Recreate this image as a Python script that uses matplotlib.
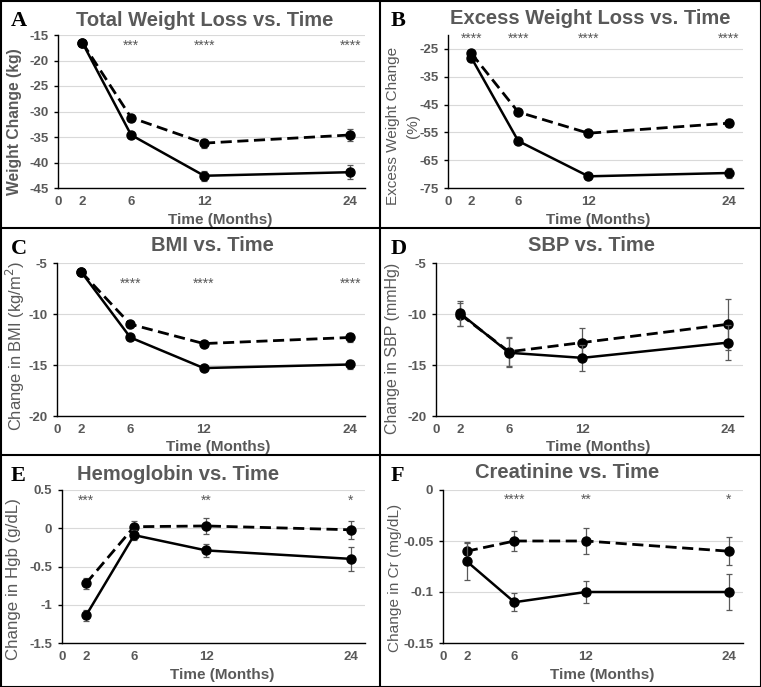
import matplotlib
matplotlib.use('Agg')
import matplotlib.pyplot as plt
from matplotlib.patches import Rectangle
from matplotlib.lines import Line2D

plt.rcParams['axes.unicode_minus'] = False

W, H = 761, 687
months = [2, 6, 12, 24]
xticks = [0, 2, 6, 12, 24]

# Panel A - Total weight loss
a_solid = [-16.5, -34.6, -42.6, -41.9]
a_solid_err = [0.3, 0.5, 1.0, 1.4]
a_dash = [-16.5, -31.2, -36.2, -34.6]
a_dash_err = [0.3, 0.6, 0.9, 1.2]
a_stars = ['', '***', '****', '****']

# Panel B - Excess weight loss
b_solid = [-28.2, -58.1, -70.8, -69.6]
b_solid_err = [0.6, 0.8, 1.0, 1.8]
b_dash = [-26.6, -47.7, -55.3, -51.7]
b_dash_err = [0.6, 1.0, 1.2, 1.5]
b_stars = ['****', '****', '****', '****']

# Panel C - BMI
c_solid = [-5.9, -12.3, -15.3, -14.95]
c_solid_err = [0.15, 0.15, 0.2, 0.4]
c_dash = [-5.9, -11.0, -12.9, -12.3]
c_dash_err = [0.15, 0.2, 0.25, 0.4]
c_stars = ['', '****', '****', '****']

# Panel D - SBP
d_solid = [-9.95, -13.8, -14.3, -12.8]
d_solid_err = [1.2, 1.4, 1.3, 1.75]
d_dash = [-10.05, -13.7, -12.8, -11.0]
d_dash_err = [1.1, 1.4, 1.45, 2.5]
d_stars = ['', '', '', '']

# Panel E - Hemoglobin
e_solid = [-1.14, -0.09, -0.29, -0.40]
e_solid_err = [0.07, 0.07, 0.085, 0.16]
e_dash = [-0.72, 0.02, 0.03, -0.02]
e_dash_err = [0.07, 0.08, 0.10, 0.12]
e_stars = ['***', '', '**', '*']

# Panel F - Creatinine
f_solid = [-0.07, -0.11, -0.10, -0.10]
f_solid_err = [0.018, 0.009, 0.011, 0.0175]
f_dash = [-0.06, -0.05, -0.05, -0.06]
f_dash_err = [0.009, 0.01, 0.013, 0.0135]
f_stars = ['', '****', '**', '*']

GRAY = '#595959'
FONT = 'Liberation Sans'

# layout per panel: panel origin, axes left/right, title centre, y-label geometry (pixels)
panels = [
    dict(letter='A', title='Total Weight Loss vs. Time', ylabel=['Weight Change (kg)'], ylw='bold',
         yl_x=[15], yl_c=122, yl_len=147, tx=205, ty=21,
         solid=a_solid, se=a_solid_err, dash=a_dash, de=a_dash_err, stars=a_stars,
         ylim=(-45, -15), yticks=[-45, -40, -35, -30, -25, -20, -15], ytl=None, stary=-17.2,
         pos=(0, 0, 58, 365), xl=220),
    dict(letter='B', title='Excess Weight Loss vs. Time', ylabel=['Excess Weight Change', '(%)'], ylw='normal',
         yl_x=[13, 33], yl_c=126, yl_len=158, tx=210, ty=19,
         solid=b_solid, se=b_solid_err, dash=b_dash, de=b_dash_err, stars=b_stars,
         ylim=(-75, -20), yticks=[-75, -65, -55, -45, -35, -25], ytl=None, stary=-21.5,
         pos=(380, 0, 68, 363), xl=218),
    dict(letter='C', title='BMI vs. Time', ylabel=['Change in BMI (kg/m$^2$)'], ylw='normal',
         yl_x=[15], yl_c=118, yl_len=170, tx=212, ty=18,
         solid=c_solid, se=c_solid_err, dash=c_dash, de=c_dash_err, stars=c_stars,
         ylim=(-20, -5), yticks=[-20, -15, -10, -5], ytl=None, stary=-7.0,
         pos=(0, 228, 57, 365), xl=218),
    dict(letter='D', title='SBP vs. Time', ylabel=['Change in SBP (mmHg)'], ylw='normal',
         yl_x=[13], yl_c=120, yl_len=172, tx=211, ty=18,
         solid=d_solid, se=d_solid_err, dash=d_dash, de=d_dash_err, stars=d_stars,
         ylim=(-20, -5), yticks=[-20, -15, -10, -5], ytl=None, stary=-7.0,
         pos=(380, 228, 56, 363), xl=218),
    dict(letter='E', title='Hemoglobin vs. Time', ylabel=['Change in Hgb (g/dL)'], ylw='normal',
         yl_x=[14], yl_c=124, yl_len=162, tx=178, ty=19,
         solid=e_solid, se=e_solid_err, dash=e_dash, de=e_dash_err, stars=e_stars,
         ylim=(-1.5, 0.5), yticks=[-1.5, -1, -0.5, 0, 0.5], ytl=['-1.5', '-1', '-0.5', '0', '0.5'],
         stary=0.36, pos=(0, 455, 62, 365), xl=222),
    dict(letter='F', title='Creatinine vs. Time', ylabel=['Change in Cr (mg/dL)'], ylw='normal',
         yl_x=[15], yl_c=123, yl_len=148, tx=187, ty=18,
         solid=f_solid, se=f_solid_err, dash=f_dash, de=f_dash_err, stars=f_stars,
         ylim=(-0.15, 0), yticks=[-0.15, -0.1, -0.05, 0], ytl=['-0.15', '-0.1', '-0.05', '0'],
         stary=-0.010, pos=(380, 455, 63, 363), xl=222),
]

fig = plt.figure(figsize=(W / 100, H / 100), dpi=100)
renderer = fig.canvas.get_renderer()

for p in panels:
    px, py, left, right = p['pos']
    top, bottom = py + 35, py + 188
    ax = fig.add_axes([(px + left) / W, 1 - bottom / H, (right - left) / W, (bottom - top) / H])
    ax.set_xlim(0, 25.2)
    ax.set_ylim(*p['ylim'])
    ax.set_yticks(p['yticks'])
    if p['ytl'] is not None:
        ax.set_yticklabels(p['ytl'])
    ax.set_xticks(xticks)
    ax.grid(axis='y', color='#d9d9d9', lw=0.8)
    ax.set_axisbelow(True)
    for s in ['top', 'right']:
        ax.spines[s].set_visible(False)
    ax.spines['left'].set_color('black')
    ax.spines['bottom'].set_color('black')
    ax.spines['left'].set_linewidth(1.0)
    ax.spines['bottom'].set_linewidth(1.0)
    ax.tick_params(axis='y', direction='out', length=3, width=1, colors='black',
                   labelcolor=GRAY, labelsize=9.5, pad=4)
    ax.tick_params(axis='x', length=0, labelcolor=GRAY, labelsize=9.5, pad=6)
    for lab in ax.get_xticklabels() + ax.get_yticklabels():
        lab.set_fontfamily(FONT)
        lab.set_fontweight('bold')

    ax.errorbar(months, p['dash'], yerr=p['de'], color='black', lw=2.0, ls=(0, (4, 2)),
                marker='o', ms=6.5, ecolor='#595959', elinewidth=0.9, capsize=2.5, capthick=0.9,
                zorder=3)
    ax.errorbar(months, p['solid'], yerr=p['se'], color='black', lw=1.8, ls='-',
                marker='o', ms=6.5, ecolor='#595959', elinewidth=0.9, capsize=2.5, capthick=0.9,
                zorder=4)
    for m, st in zip(months, p['stars']):
        if st:
            ax.text(m, p['stary'], st, ha='center', va='center', color=GRAY,
                    fontsize=10, family=FONT, clip_on=False)

    ax.set_xlabel('Time (Months)', fontsize=11, fontweight='bold', color=GRAY,
                  family=FONT, labelpad=3)
    ax.xaxis.label.set_x((p['xl'] - left) / (right - left))

    # y-axis title(s), sized to the reference length
    fs = None
    for i, (txt, xx) in enumerate(zip(p['ylabel'], p['yl_x'])):
        t = fig.text((px + xx) / W, 1 - (py + p['yl_c']) / H, txt, rotation=90,
                     ha='center', va='center', fontsize=10, fontweight=p['ylw'],
                     color=GRAY, family=FONT)
        if i == 0:
            ext = t.get_window_extent(renderer)
            fs = 10 * p['yl_len'] / ext.height
        t.set_fontsize(fs)

    # title and letter
    fig.text((px + p['tx']) / W, 1 - (py + p['ty']) / H, p['title'], ha='center', va='center',
             fontsize=14.5, fontweight='bold', color=GRAY, family=FONT)
    fig.text((px + 11) / W, 1 - (py + 21) / H, p['letter'], ha='left', va='center',
             fontsize=16, fontweight='bold', color='black', family='Liberation Serif')

# panel borders
lw = 1.5
fig.add_artist(Rectangle((0.5 / W, 0.5 / H), (W - 1) / W, (H - 1) / H, transform=fig.transFigure,
                         fill=False, ec='black', lw=lw))
fig.add_artist(Line2D([380 / W, 380 / W], [0, 1], transform=fig.transFigure, color='black', lw=lw))
for yb in [228, 455]:
    fig.add_artist(Line2D([0, 1], [1 - yb / H, 1 - yb / H], transform=fig.transFigure,
                          color='black', lw=lw))

fig.savefig('out.png', dpi=100)
